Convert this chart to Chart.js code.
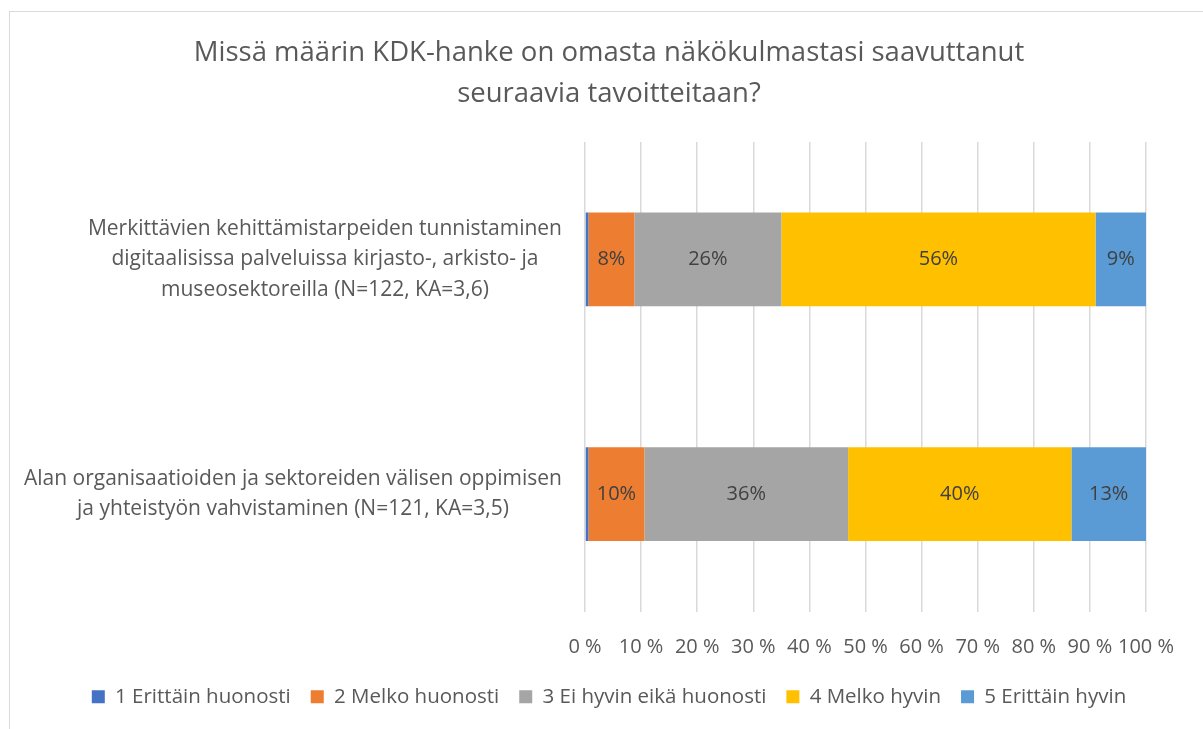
<!DOCTYPE html>
<html>
<head>
<meta charset="utf-8">
<script src="https://cdn.jsdelivr.net/npm/chart.js@4.4.0/dist/chart.umd.min.js"></script>
<style>
  body { margin: 0; background: #fff; }
  #wrap { position: relative; width: 1203px; height: 729px; overflow: hidden; }
  #frame { position: absolute; left: 9px; top: 11px; width: 1300px; height: 800px;
           border-left: 1.5px solid #d9d9d9; border-top: 1.5px solid #d9d9d9; }
  canvas { position: absolute; left: 0; top: 0; }
</style>
</head>
<body>
<div id="wrap">
  <div id="frame"></div>
  <canvas id="chart" width="1203" height="729"></canvas>
</div>
<script>
// Kategoriat (monirivinen teksti)
const kategoriat = [
    ['Merkittävien kehittämistarpeiden tunnistaminen',
     'digitaalisissa palveluissa kirjasto-, arkisto- ja',
     'museosektoreilla (N=122, KA=3,6)'],
    ['Alan organisaatioiden ja sektoreiden välisen oppimisen',
     'ja yhteistyön vahvistaminen (N=121, KA=3,5)']
];

// Sarjojen nimet ja arvot (%)
const sarjat = ['1 Erittäin huonosti', '2 Melko huonosti', '3 Ei hyvin eikä huonosti', '4 Melko hyvin', '5 Erittäin hyvin'];
const erittainHuonosti = [0.6, 0.6];
const melkoHuonosti = [8.2, 10.0];
const eiHyvinEikaHuonosti = [26.2, 36.3];
const melkoHyvin = [56.0, 39.8];
const erittainHyvin = [9.0, 13.3];

const xTicks = [0, 10, 20, 30, 40, 50, 60, 70, 80, 90, 100];

const varit = ['#4472C4', '#ED7D31', '#A5A5A5', '#FFC000', '#5B9BD5'];
const arvot = [erittainHuonosti, melkoHuonosti, eiHyvinEikaHuonosti, melkoHyvin, erittainHyvin];

const fontti = 'Open Sans';
const tekstiVari = '#595959';

// Prosenttiluvut palkkien sisään
const arvoTekstit = {
    id: 'arvoTekstit',
    afterDatasetsDraw(chart) {
        const ctx = chart.ctx;
        ctx.save();
        ctx.font = '20px "' + fontti + '"';
        ctx.fillStyle = '#404040';
        ctx.textAlign = 'center';
        ctx.textBaseline = 'middle';
        chart.data.datasets.forEach((ds, i) => {
            const meta = chart.getDatasetMeta(i);
            meta.data.forEach((bar, j) => {
                const v = ds.data[j];
                if (v < 2) return;
                const p = bar.getCenterPoint();
                ctx.fillText(Math.round(v) + '%', p.x, p.y);
            });
        });
        ctx.restore();
    }
};

// Kategorioiden nimet: oikealle tasattu lohko, rivit keskitetty lohkon sisällä
const kategoriaTekstit = {
    id: 'kategoriaTekstit',
    afterDraw(chart) {
        const ctx = chart.ctx;
        const yScale = chart.scales.y;
        const rivinKorkeus = 30.5;
        ctx.save();
        ctx.font = '21px "' + fontti + '"';
        ctx.fillStyle = tekstiVari;
        ctx.textAlign = 'center';
        ctx.textBaseline = 'middle';
        chart.data.labels.forEach((rivit, i) => {
            const y = yScale.getPixelForTick(i);
            const leveys = Math.max(...rivit.map(r => ctx.measureText(r).width));
            const x = chart.chartArea.left - 23 - leveys / 2;
            const alku = y - (rivit.length - 1) * rivinKorkeus / 2;
            rivit.forEach((r, k) => ctx.fillText(r, x, alku + k * rivinKorkeus));
        });
        ctx.restore();
    }
};

new Chart(document.getElementById('chart'), {
    type: 'bar',
    data: {
        labels: kategoriat,
        datasets: sarjat.map((nimi, i) => ({
            label: nimi,
            data: arvot[i],
            backgroundColor: varit[i],
            borderWidth: 0,
            categoryPercentage: 1,
            barPercentage: 0.4
        }))
    },
    options: {
        indexAxis: 'y',
        responsive: false,
        animation: false,
        layout: { padding: { left: 15, right: 0, top: 0, bottom: 12 } },
        scales: {
            x: {
                stacked: true,
                min: 0,
                max: 100,
                afterBuildTicks: (scale) => { scale.ticks = xTicks.map(v => ({ value: v })); },
                afterFit: (scale) => { scale.height = 55; scale.paddingLeft = 0; scale.paddingRight = 57; },
                grid: { color: '#d9d9d9', lineWidth: 1.5, drawTicks: false },
                border: { display: false },
                ticks: {
                    padding: 24,
                    autoSkip: false,
                    minRotation: 0,
                    maxRotation: 0,
                    color: tekstiVari,
                    font: { family: fontti, size: 20 },
                    callback: (v) => v + ' %'
                }
            },
            y: {
                stacked: true,
                afterFit: (scale) => { scale.width = 570; scale.paddingTop = 0; scale.paddingBottom = 0; },
                grid: { display: false },
                border: { display: false },
                ticks: { display: false }
            }
        },
        plugins: {
            title: {
                display: true,
                text: ['Missä määrin KDK-hanke on omasta näkökulmastasi saavuttanut', 'seuraavia tavoitteitaan?'],
                color: tekstiVari,
                font: { family: fontti, size: 27.5, weight: 'normal', lineHeight: 1.49 },
                padding: { top: 33, bottom: 27 }
            },
            legend: {
                position: 'bottom',
                labels: {
                    boxWidth: 13,
                    boxHeight: 13,
                    padding: 20,
                    color: tekstiVari,
                    font: { family: fontti, size: 20.5 }
                }
            },
            tooltip: { enabled: false }
        }
    },
    plugins: [arvoTekstit, kategoriaTekstit]
});
</script>
</body>
</html>
